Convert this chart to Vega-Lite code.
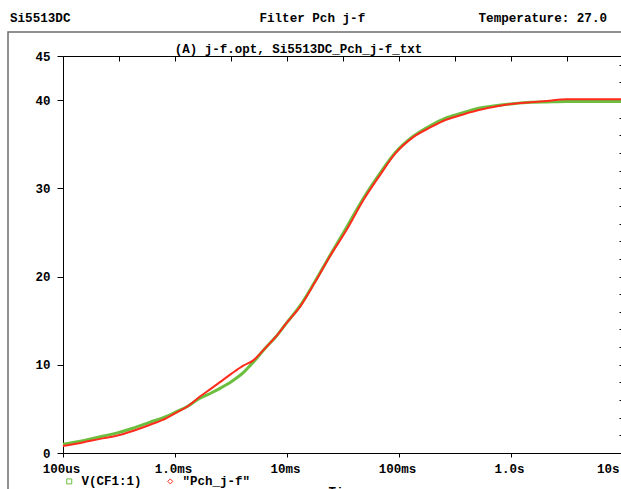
{
  "$schema": "https://vega.github.io/schema/vega-lite/v6.json",
  "autosize": {"type": "none"},
  "padding": {"left": 8, "top": 32, "right": -2, "bottom": -2},
  "width": 615,
  "height": 459,
  "background": "white",
  "config": {
    "view": {"stroke": "#6e6e6e", "strokeWidth": 1.5},
    "font": "Liberation Mono",
    "axis": {
      "labelFont": "Liberation Mono", "labelFontWeight": "bold", "labelFontSize": 12.5, "labelColor": "black",
      "titleFont": "Liberation Mono", "titleFontWeight": "bold", "titleFontSize": 12.5, "titleColor": "black",
      "domainColor": "black", "tickColor": "black", "grid": false, "labelOverlap": false, "labelBound": false, "labelFlush": false
    }
  },
  "title": {
    "text": "Si5513DC\u00a0\u00a0\u00a0\u00a0\u00a0\u00a0\u00a0\u00a0\u00a0\u00a0\u00a0\u00a0\u00a0\u00a0\u00a0\u00a0\u00a0\u00a0\u00a0\u00a0\u00a0\u00a0\u00a0\u00a0\u00a0Filter Pch j-f\u00a0\u00a0\u00a0\u00a0\u00a0\u00a0\u00a0\u00a0\u00a0\u00a0\u00a0\u00a0\u00a0\u00a0\u00a0Temperature: 27.0",
    "anchor": "start", "frame": "group", "dx": 2, "dy": 4, "offset": 1, "baseline": "alphabetic",
    "font": "Liberation Mono", "fontWeight": "bold", "fontSize": 12.6, "color": "black"
  },
  "data": {
    "values": [
      {"t": 0.0001, "v": 1.0, "s": "V(CF1:1)"},
      {"t": 0.00015, "v": 1.4, "s": "V(CF1:1)"},
      {"t": 0.000214, "v": 1.85, "s": "V(CF1:1)"},
      {"t": 0.0003, "v": 2.25, "s": "V(CF1:1)"},
      {"t": 0.00042, "v": 2.8, "s": "V(CF1:1)"},
      {"t": 0.0006, "v": 3.5, "s": "V(CF1:1)"},
      {"t": 0.00084, "v": 4.15, "s": "V(CF1:1)"},
      {"t": 0.001, "v": 4.6, "s": "V(CF1:1)"},
      {"t": 0.0013, "v": 5.3, "s": "V(CF1:1)"},
      {"t": 0.00167, "v": 6.2, "s": "V(CF1:1)"},
      {"t": 0.0021, "v": 6.8, "s": "V(CF1:1)"},
      {"t": 0.0025, "v": 7.3, "s": "V(CF1:1)"},
      {"t": 0.0032, "v": 8.1, "s": "V(CF1:1)"},
      {"t": 0.00407, "v": 9.1, "s": "V(CF1:1)"},
      {"t": 0.005, "v": 10.3, "s": "V(CF1:1)"},
      {"t": 0.0063, "v": 11.8, "s": "V(CF1:1)"},
      {"t": 0.0081, "v": 13.3, "s": "V(CF1:1)"},
      {"t": 0.01, "v": 14.8, "s": "V(CF1:1)"},
      {"t": 0.0131, "v": 16.7, "s": "V(CF1:1)"},
      {"t": 0.0175, "v": 19.3, "s": "V(CF1:1)"},
      {"t": 0.0242, "v": 22.4, "s": "V(CF1:1)"},
      {"t": 0.0341, "v": 25.6, "s": "V(CF1:1)"},
      {"t": 0.0477, "v": 28.8, "s": "V(CF1:1)"},
      {"t": 0.0676, "v": 31.7, "s": "V(CF1:1)"},
      {"t": 0.092, "v": 34.0, "s": "V(CF1:1)"},
      {"t": 0.134, "v": 35.9, "s": "V(CF1:1)"},
      {"t": 0.19, "v": 37.1, "s": "V(CF1:1)"},
      {"t": 0.267, "v": 38.0, "s": "V(CF1:1)"},
      {"t": 0.38, "v": 38.6, "s": "V(CF1:1)"},
      {"t": 0.528, "v": 39.1, "s": "V(CF1:1)"},
      {"t": 0.75, "v": 39.4, "s": "V(CF1:1)"},
      {"t": 1.05, "v": 39.6, "s": "V(CF1:1)"},
      {"t": 1.5, "v": 39.75, "s": "V(CF1:1)"},
      {"t": 2.08, "v": 39.8, "s": "V(CF1:1)"},
      {"t": 3.14, "v": 39.85, "s": "V(CF1:1)"},
      {"t": 10, "v": 39.85, "s": "V(CF1:1)"},
      {"t": 0.0001, "v": 0.8, "s": "\"Pch_j-f\""},
      {"t": 0.00015, "v": 1.2, "s": "\"Pch_j-f\""},
      {"t": 0.000214, "v": 1.6, "s": "\"Pch_j-f\""},
      {"t": 0.0003, "v": 1.95, "s": "\"Pch_j-f\""},
      {"t": 0.00042, "v": 2.5, "s": "\"Pch_j-f\""},
      {"t": 0.0006, "v": 3.2, "s": "\"Pch_j-f\""},
      {"t": 0.00084, "v": 3.95, "s": "\"Pch_j-f\""},
      {"t": 0.001, "v": 4.5, "s": "\"Pch_j-f\""},
      {"t": 0.0013, "v": 5.3, "s": "\"Pch_j-f\""},
      {"t": 0.00167, "v": 6.4, "s": "\"Pch_j-f\""},
      {"t": 0.0021, "v": 7.3, "s": "\"Pch_j-f\""},
      {"t": 0.0025, "v": 8.0, "s": "\"Pch_j-f\""},
      {"t": 0.0032, "v": 9.0, "s": "\"Pch_j-f\""},
      {"t": 0.00407, "v": 9.9, "s": "\"Pch_j-f\""},
      {"t": 0.005, "v": 10.5, "s": "\"Pch_j-f\""},
      {"t": 0.0063, "v": 11.8, "s": "\"Pch_j-f\""},
      {"t": 0.0081, "v": 13.3, "s": "\"Pch_j-f\""},
      {"t": 0.01, "v": 14.8, "s": "\"Pch_j-f\""},
      {"t": 0.0131, "v": 16.6, "s": "\"Pch_j-f\""},
      {"t": 0.0175, "v": 19.2, "s": "\"Pch_j-f\""},
      {"t": 0.0242, "v": 22.3, "s": "\"Pch_j-f\""},
      {"t": 0.0341, "v": 25.3, "s": "\"Pch_j-f\""},
      {"t": 0.0477, "v": 28.6, "s": "\"Pch_j-f\""},
      {"t": 0.0676, "v": 31.5, "s": "\"Pch_j-f\""},
      {"t": 0.092, "v": 33.9, "s": "\"Pch_j-f\""},
      {"t": 0.134, "v": 35.8, "s": "\"Pch_j-f\""},
      {"t": 0.19, "v": 36.9, "s": "\"Pch_j-f\""},
      {"t": 0.267, "v": 37.8, "s": "\"Pch_j-f\""},
      {"t": 0.38, "v": 38.4, "s": "\"Pch_j-f\""},
      {"t": 0.528, "v": 38.9, "s": "\"Pch_j-f\""},
      {"t": 0.75, "v": 39.3, "s": "\"Pch_j-f\""},
      {"t": 1.05, "v": 39.6, "s": "\"Pch_j-f\""},
      {"t": 1.5, "v": 39.75, "s": "\"Pch_j-f\""},
      {"t": 2.08, "v": 39.9, "s": "\"Pch_j-f\""},
      {"t": 3.14, "v": 40.1, "s": "\"Pch_j-f\""},
      {"t": 10, "v": 40.1, "s": "\"Pch_j-f\""}
    ]
  },
  "layer": [
    {
      "transform": [{"filter": "datum.s == 'V(CF1:1)'"}],
      "mark": {"type": "line", "strokeWidth": 3, "interpolate": "monotone"},
      "encoding": {
        "x": {
          "field": "t", "type": "quantitative",
          "scale": {"type": "log", "domain": [0.0001, 10], "range": [55, 615]},
          "axis": {
            "orient": "bottom", "offset": -38,
            "values": [0.0001, 0.0003162, 0.001, 0.003162, 0.01, 0.03162, 0.1, 0.3162, 1, 3.162, 10],
            "labelExpr": "datum.value < 0.00015 ? '100us' : (datum.value > 0.0009 && datum.value < 0.0011) ? '1.0ms' : (datum.value > 0.009 && datum.value < 0.011) ? '10ms' : (datum.value > 0.09 && datum.value < 0.11) ? '100ms' : (datum.value > 0.9 && datum.value < 1.1) ? '1.0s' : datum.value > 9 ? '10s' : ''",
            "tickSize": {"condition": {"test": "abs(log(datum.value)/LN10 - round(log(datum.value)/LN10)) > 0.1", "value": 0}, "value": 4},
            "labelAlign": {"condition": {"test": "datum.value > 5", "value": "right"}, "value": "center"},
            "labelOffset": {"condition": {"test": "datum.value > 5", "value": -4}, "value": -2},
            "labelPadding": 5,
            "encode": {"ticks": {"update": {"y": {"value": -4}}}},
            "title": "Time", "titlePadding": 11
          }
        },
        "y": {
          "field": "v", "type": "quantitative",
          "scale": {"domain": [0, 45], "range": [421, 24]},
          "axis": {
            "orient": "left", "offset": -55,
            "values": [0, 2, 4, 6, 8, 10, 12, 14, 16, 18, 20, 22, 24, 26, 28, 30, 32, 34, 36, 38, 40, 42, 44, 45],
            "labelExpr": "(datum.value % 10 == 0 || datum.value == 45) ? datum.label : ''",
            "tickSize": {"condition": {"test": "datum.value % 10 != 0 && datum.value != 45", "value": 0}, "value": 6},
            "encode": {"ticks": {"update": {"x": [{"test": "datum.value % 10 == 0 || datum.value == 45", "value": 6}, {"value": 4}]}}},
            "labelPadding": 7,
            "title": null
          }
        },
        "color": {
          "field": "s", "type": "nominal",
          "scale": {"domain": ["V(CF1:1)", "\"Pch_j-f\""], "range": ["#6cbf3e", "#ff2b1c"]},
          "legend": {
            "orient": "none", "legendX": 55, "legendY": 443, "direction": "horizontal", "title": null,
            "labelFont": "Liberation Mono", "labelFontWeight": "bold", "labelFontSize": 12.5, "labelColor": "black",
            "symbolType": "square", "symbolSize": 25, "symbolStrokeWidth": 1, "labelOffset": 6, "columnPadding": 22, "padding": 0,
            "encode": {"symbols": {"update": {"shape": [{"test": "datum.value == 'V(CF1:1)'", "value": "square"}, {"value": "diamond"}], "fill": {"value": "transparent"}}}}
          }
        }
      }
    },
    {
      "transform": [{"filter": "datum.s != 'V(CF1:1)'"}],
      "mark": {"type": "line", "strokeWidth": 2, "interpolate": "monotone"},
      "encoding": {
        "x": {
          "field": "t", "type": "quantitative",
          "scale": {"type": "log", "domain": [0.0001, 10], "range": [55, 615]},
          "axis": {
            "orient": "top", "offset": -24,
            "values": [0.0001, 0.0003162, 0.001, 0.003162, 0.01, 0.03162, 0.1, 0.3162, 1, 3.162, 10],
            "labels": false, "tickSize": -5,
            "title": "(A) j-f.opt, Si5513DC_Pch_j-f_txt", "titleX": 290, "titleY": -4, "titleBaseline": "alphabetic", "titleAlign": "center"
          }
        },
        "y": {
          "field": "v", "type": "quantitative",
          "scale": {"domain": [0, 45], "range": [421, 24]},
          "axis": {
            "orient": "right", "offset": 0,
            "values": [0, 2, 4, 6, 8, 10, 12, 14, 16, 18, 20, 22, 24, 26, 28, 30, 32, 34, 36, 38, 40, 42, 44, 45],
            "labels": false, "tickSize": -4, "title": null
          }
        },
        "color": {"field": "s", "type": "nominal", "scale": {"domain": ["V(CF1:1)", "\"Pch_j-f\""], "range": ["#6cbf3e", "#ff2b1c"]}}
      }
    }
  ],
  "resolve": {"axis": {"x": "independent", "y": "independent"}}
}
